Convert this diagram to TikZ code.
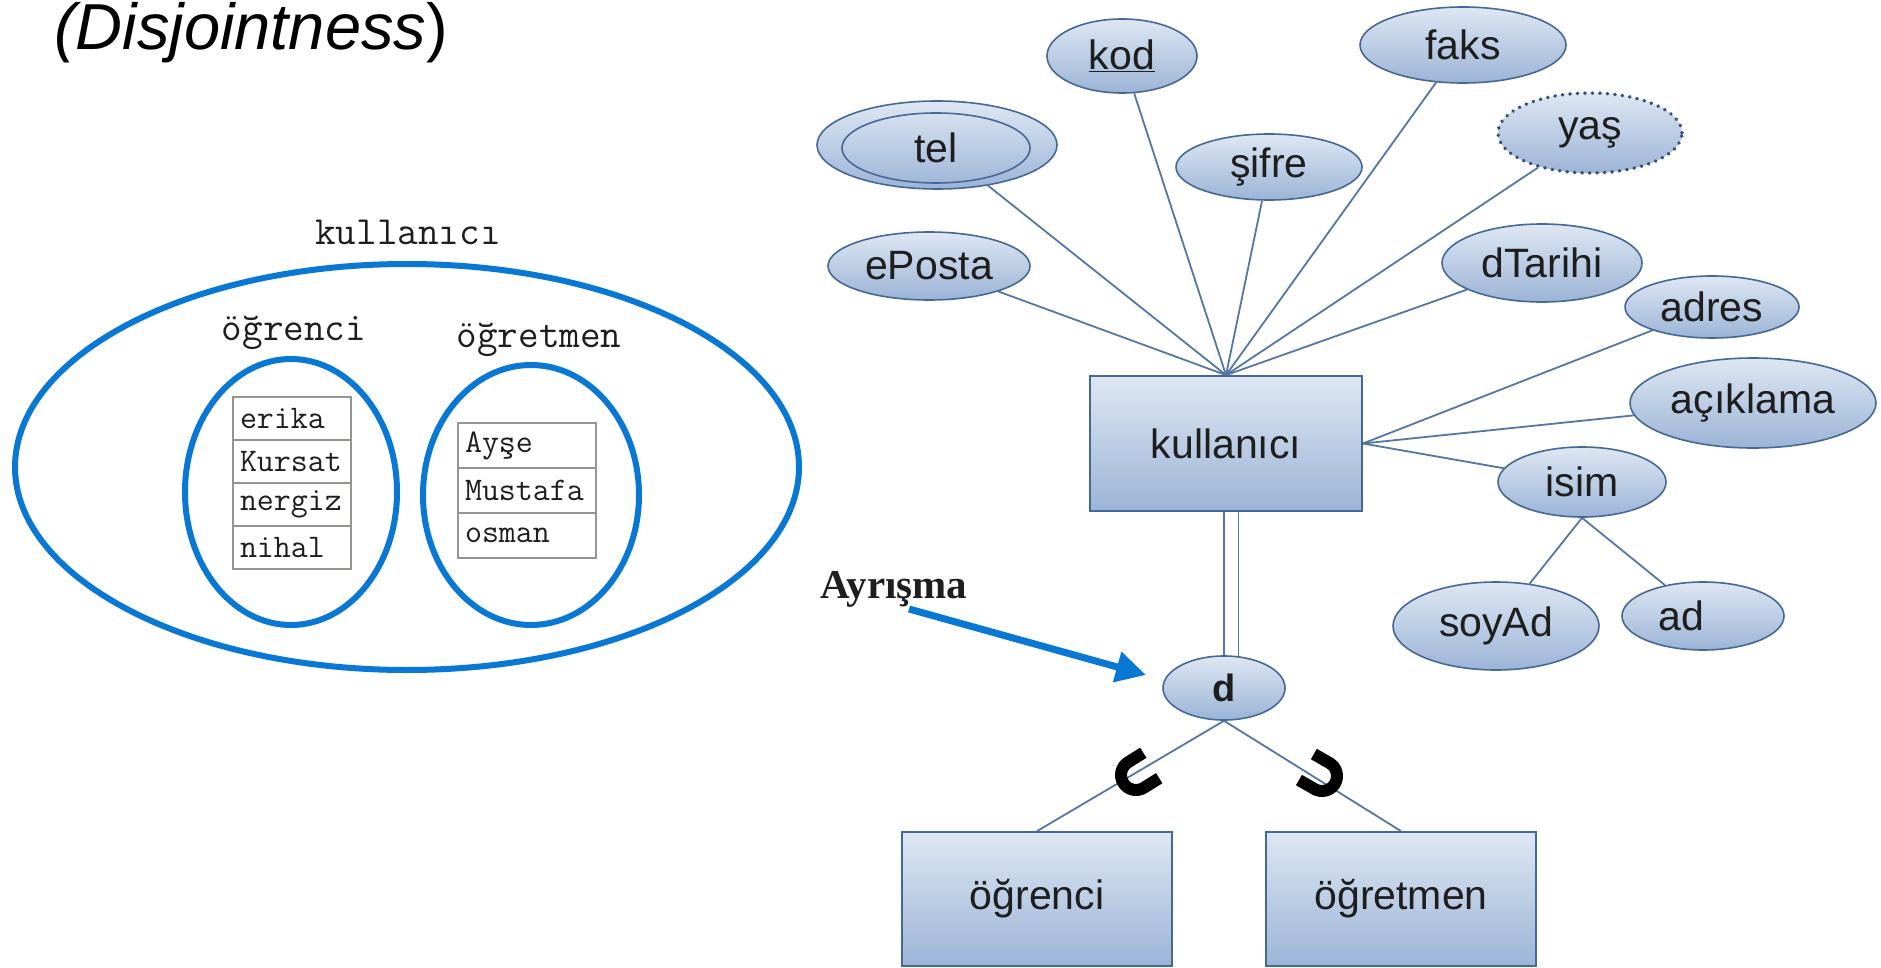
\documentclass[tikz,border=0pt]{standalone}
\usepackage{fontspec}
\setmainfont{Liberation Sans}
\newfontfamily\ayrfont{Liberation Serif}
\newfontfamily\dfont{Liberation Sans}
\usetikzlibrary{backgrounds,arrows.meta,calc,shapes.geometric}
\definecolor{vblue}{RGB}{8,120,212}
\definecolor{erline}{RGB}{86,118,166}
\definecolor{erborder}{RGB}{70,104,150}
\definecolor{dotborder}{RGB}{55,80,120}
\definecolor{ftop}{RGB}{222,231,243}
\definecolor{fbot}{RGB}{155,180,214}
\definecolor{cellgray}{RGB}{150,150,145}
\definecolor{txt}{RGB}{30,30,30}
\tikzset{
  ell/.style 2 args={minimum width=#1pt, minimum height=#2pt},
  attr/.style={ellipse, draw=erborder, line width=1.6pt, top color=ftop, bottom color=fbot,
    inner sep=0pt, font=\fontsize{41}{48}\selectfont, text=txt},
  ent/.style={rectangle, draw=erborder, line width=1.8pt, top color=ftop, bottom color=fbot,
    inner sep=0pt, font=\fontsize{41}{48}\selectfont, text=txt},
  conn/.style={draw=erline, line width=1.8pt},
  vset/.style={ellipse, draw=vblue, line width=6pt, inner sep=0pt},
  vlabel/.style={font=\ttfamily\fontsize{40}{44}\selectfont, text=txt},
  cell/.style={rectangle, draw=cellgray, line width=2pt, fill=white, anchor=north west,
    font=\ttfamily\fontsize{33}{36}\selectfont, text=txt, align=left, inner xsep=7pt, inner ysep=0pt},
  cupstyle/.style={draw=black, line width=12pt, line cap=butt}
}
\begin{document}
\begin{tikzpicture}[x=1pt,y=-1pt]
\useasboundingbox (0,0) rectangle (1881,968);
\begin{pgfonlayer}{background}
\fill[white] (0,0) rectangle (1881,968);
\end{pgfonlayer}

% title
\node[anchor=base west, inner sep=0pt, font=\fontsize{65}{72}\selectfont] (title) at (54,50) {\textit{(Disjointness})};

% Venn diagram
\node[vset, ell={784}{406}] (vk) at (407,467) {};
\node[vset, ell={212}{266}] (vo) at (291,492) {};
\node[vset, ell={216}{260}] (vt) at (531,495) {};
\node[vlabel] (lk) at (408,232) {kullanıcı};
\node[vlabel] (lo) at (294,333) {öğrenci};
\node[vlabel] (lt) at (539,340) {öğretmen};

\node[cell, minimum width=118pt, minimum height=43pt, text width=104pt] (c1) at (232,396) {erika};
\node[cell, minimum width=118pt, minimum height=43pt, text width=104pt] (c2) at (232,439) {Kursat};
\node[cell, minimum width=118pt, minimum height=43pt, text width=104pt] (c3) at (232,482) {nergiz};
\node[cell, minimum width=118pt, minimum height=43pt, text width=104pt] (c4) at (232,525) {nihal};

\node[cell, minimum width=138pt, minimum height=45pt, text width=124pt] (t1) at (457,422) {Ayşe};
\node[cell, minimum width=138pt, minimum height=45pt, text width=124pt] (t2) at (457,467) {Mustafa};
\node[cell, minimum width=138pt, minimum height=45pt, text width=124pt] (t3) at (457,512) {osman};

% ER diagram
\node[ent, minimum width=272pt, minimum height=135pt] (kul) at (1226,443.5) {kullanıcı};
\node[attr, ell={150}{74}] (kod) at (1122,56) {\underline{kod}};
\node[attr, ell={240}{88}] (tel) at (937,145) {};
\node[ellipse, draw=erborder, line width=1.6pt, inner sep=0pt, ell={188}{70},
  font=\fontsize{41}{48}\selectfont, text=txt] (telin) at (936,148) {tel};
\node[attr, ell={186}{66}] (sifre) at (1269,167) {şifre};
\node[attr, ell={206}{76}] (faks) at (1463,45) {faks};
\node[attr, ell={184}{80}, draw=dotborder, dash pattern=on 0.5pt off 7pt, line cap=round, line width=3.5pt] (yas) at (1590,133) {yaş};
\node[attr, ell={202}{68}] (eposta) at (929,266) {ePosta};
\node[attr, ell={200}{78}] (dtarihi) at (1542,263) {dTarihi};
\node[attr, ell={174}{62}] (adres) at (1712,307) {adres};
\node[attr, ell={246}{90}] (aciklama) at (1753,403) {açıklama};
\node[attr, ell={168}{70}] (isim) at (1582,482) {isim};
\node[attr, ell={206}{88}] (soyad) at (1496,626) {soyAd};
\node[attr, ell={162}{68}] (ad) at (1703,616) {ad\hspace*{44pt}};
\node[attr, ell={122}{64}, font=\dfont\bfseries\fontsize{38}{44}\selectfont] (d) at (1224,688) {d};
\node[ent, minimum width=270pt, minimum height=134pt] (ogr) at (1037,899) {öğrenci};
\node[ent, minimum width=270pt, minimum height=134pt] (ogt) at (1401,899) {öğretmen};

\begin{pgfonlayer}{background}
\draw[conn] (kul.north) -- (tel);
\draw[conn] (kul.north) -- (kod);
\draw[conn] (kul.north) -- (sifre);
\draw[conn] (kul.north) -- (faks);
\draw[conn] (kul.north) -- (yas);
\draw[conn] (kul.north) -- (eposta);
\draw[conn] (kul.north) -- (dtarihi);
\draw[conn] (kul.east) -- (adres);
\draw[conn] (kul.east) -- (aciklama);
\draw[conn] (kul.east) -- (isim);
\draw[conn] (isim.south) -- (soyad);
\draw[conn] (isim.south) -- (ad);
\draw[conn, double=white, double distance=13pt] ($(kul.south)+(5,0)$) -- ($(kul.south |- d.center)+(5,0)$);
\draw[conn] (d.south) -- (ogr.north);
\draw[conn] (d.south) -- (ogt.north);
\end{pgfonlayer}

% subset symbols
\coordinate (cupL) at (1136,775);
\begin{scope}[shift={(cupL)}, x={(0.847pt,0.531pt)}, y={(-0.531pt,0.847pt)}]
\draw[cupstyle] (18,15) -- (0,15) arc[start angle=90, end angle=270, radius=15] -- (18,-15);
\end{scope}
\coordinate (cupR) at (1322,776);
\begin{scope}[shift={(cupR)}, x={(-0.867pt,0.498pt)}, y={(-0.498pt,-0.867pt)}]
\draw[cupstyle] (18,15) -- (0,15) arc[start angle=90, end angle=270, radius=15] -- (18,-15);
\end{scope}

% Ayrisma label and arrow
\node[anchor=base west, inner sep=0pt, font=\ayrfont\bfseries\fontsize{41}{48}\selectfont, text=txt] (ayr) at (820,598) {Ayrışma};
\coordinate (arS) at (909,609);
\coordinate (arE) at (1146,675);
\draw[vblue, line width=7pt, -{Triangle[length=30pt,width=30pt]}] (arS) -- (arE);
\end{tikzpicture}
\end{document}
